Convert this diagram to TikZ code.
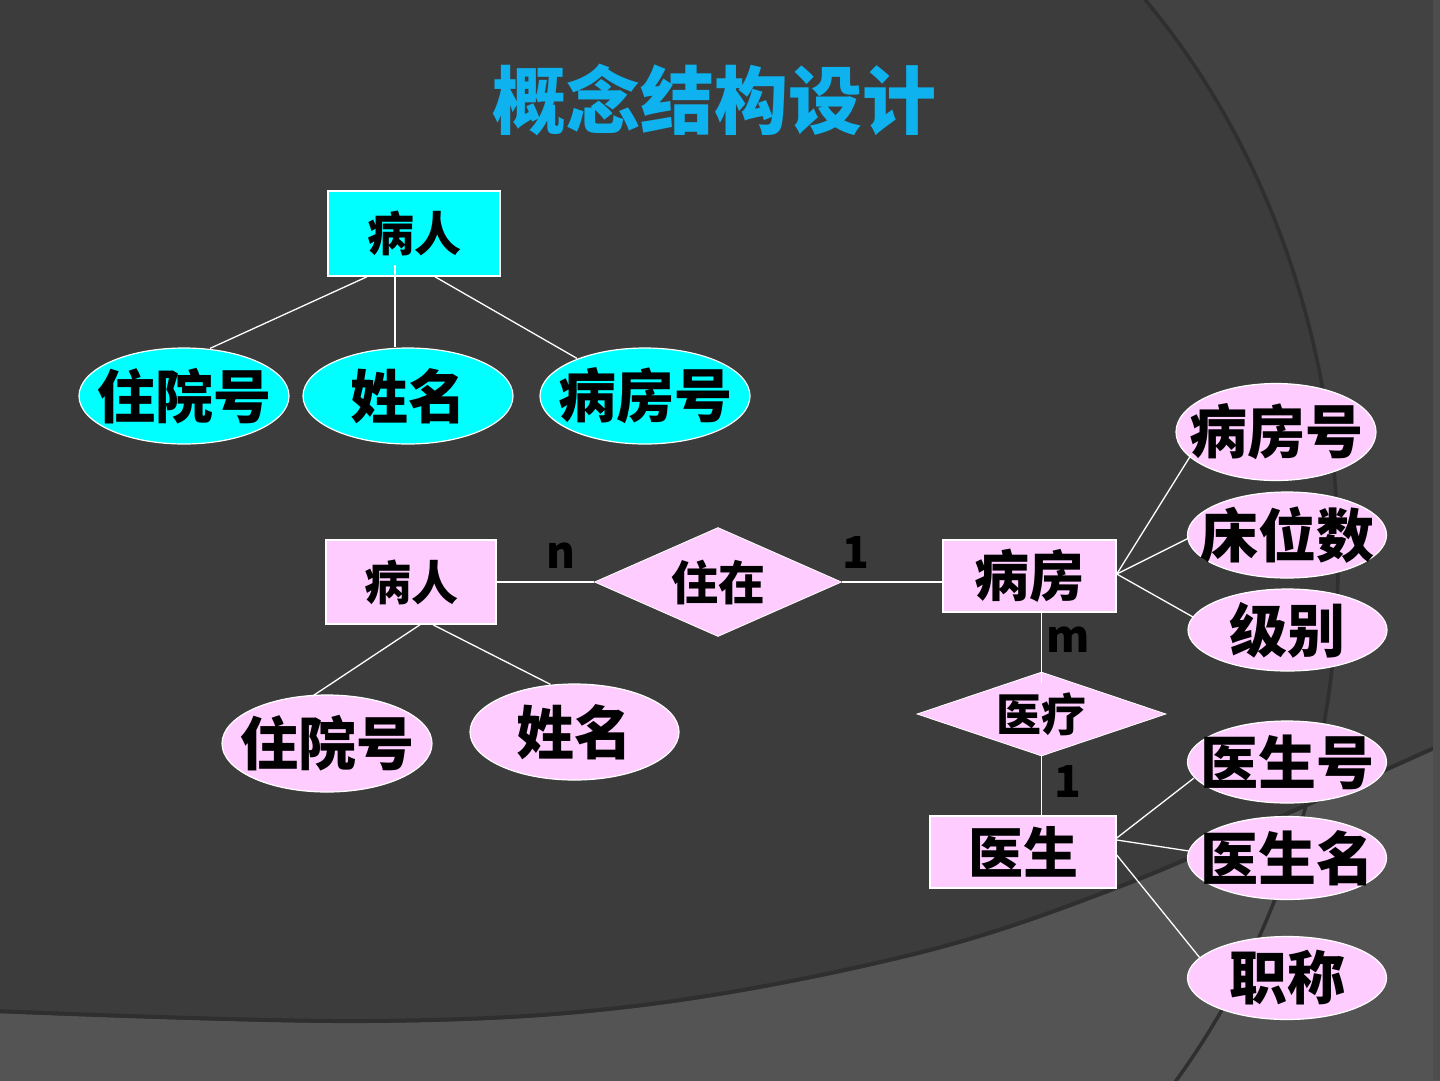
\documentclass[tikz,border=0pt]{standalone}
\usepackage{fontspec}
\newfontfamily\cjk{Noto Sans CJK SC}
\usetikzlibrary{shapes.geometric,calc}
\definecolor{bgbase}{HTML}{3C3C3C}
\definecolor{bgright}{HTML}{424242}
\definecolor{bgbottom}{HTML}{545454}
\definecolor{bgshadow}{HTML}{2F2F2F}
\definecolor{cyanc}{HTML}{00FFFF}
\definecolor{pinkc}{HTML}{FFCCFF}
\definecolor{titlec}{HTML}{0EB2EE}
\newcommand\myfs[1]{\fontsize{#1}{#1}\selectfont}
\begin{document}
\begin{tikzpicture}[x=1pt,y=-1pt,
  ent/.style={draw=white, line width=1.5pt, inner sep=0, fill=#1},
  attr/.style={ellipse, draw=white, line width=1.2pt, inner sep=0, fill=#1},
  rel/.style={diamond, draw=white, line width=0.8pt, inner sep=0, fill=pinkc},
  conn/.style={white, line width=1.3pt},
  txt/.style={font=\cjk\bfseries\myfs{#1}, text=black},
  card/.style={font=\cjk\bfseries\myfs{44}, text=black, inner sep=0}]
% background
\useasboundingbox (0,0) rectangle (1440,1080);
\fill[bgbase] (0,0) rectangle (1440,1080);
\begin{scope}
  \clip (700,0) rectangle (1440,1080);
  \fill[bgright, even odd rule] (700,0) rectangle (1440,1080) (700,560) ellipse [x radius=640, y radius=784];
\end{scope}
\fill[bgbottom] plot[smooth, tension=0.6] coordinates {(-5,1013) (367,1023) (643,1007) (918,955) (1121,888) (1300,810) (1445,745)} -- (1445,1085) -- (-5,1085) -- cycle;
\draw[bgshadow, line width=4pt] plot[smooth, tension=0.6] coordinates {(-5,1011) (367,1021) (643,1005) (918,953) (1121,886) (1300,808) (1445,743)};
\begin{scope}
  \clip (700,0) rectangle (1440,1080);
  \draw[bgshadow, line width=3.5pt] (700,560) ellipse [x radius=638, y radius=782];
\end{scope}
\fill[bgright!94!white] (1433,0) rectangle (1440,1080);

% title
\node[font=\cjk\bfseries\myfs{74}, text=titlec] (title) at (714,100) {概念结构设计};

% top diagram
\node[ent=cyanc, minimum width=172, minimum height=85, txt=47] (p1) at (414,233.5) {病人};
\node[attr=cyanc, minimum width=210, minimum height=96, label={[txt=58]center:住院号}] (a1) at (184,396) {};
\node[attr=cyanc, minimum width=210, minimum height=96, label={[txt=58]center:姓名}] (a2) at (408,396) {};
\node[attr=cyanc, minimum width=210, minimum height=96, label={[txt=58]center:病房号}] (a3) at (645,396) {};
\draw[conn] ($(p1.south)+(-47,0)$) -- ($(a1.north)+(26,1)$);
\draw[conn] ($(p1.south)+(-19,-12)$) -- ($(a2.north)+(-13,0)$);
\draw[conn] ($(p1.south)+(21,0)$) -- ($(a3.north)+(-68,11)$);

% bottom diagram
\node[ent=pinkc, minimum width=170, minimum height=84, txt=47] (p2) at (411,582) {病人};
\node[rel, minimum width=247, minimum height=109, label={[txt=47]center:住在}] (r1) at (718,582) {};
\node[ent=pinkc, minimum width=173, minimum height=72, txt=55] (e1) at (1029.5,576) {病房};
\node[rel, minimum width=249, minimum height=84, label={[txt=45]center:医疗}] (r2) at (1041.5,714) {};
\node[ent=pinkc, minimum width=186, minimum height=72, txt=55] (e2) at (1023,852) {医生};

\node[attr=pinkc, minimum width=210, minimum height=97, label={[txt=58]center:住院号}] (b1) at (327,743.5) {};
\node[attr=pinkc, minimum width=209, minimum height=96, label={[txt=58]center:姓名}] (b2) at (574.5,732) {};

\node[attr=pinkc, minimum width=200, minimum height=97, label={[txt=58]center:病房号}] (c1) at (1276,432) {};
\node[attr=pinkc, minimum width=199, minimum height=86, label={[txt=58]center:床位数}] (c2) at (1287,535) {};
\node[attr=pinkc, minimum width=199, minimum height=82, label={[txt=58]center:级别}] (c3) at (1287.5,630) {};
\node[attr=pinkc, minimum width=199, minimum height=82, label={[txt=58]center:医生号}] (d1) at (1287,762) {};
\node[attr=pinkc, minimum width=199, minimum height=83, label={[txt=58]center:医生名}] (d2) at (1287,858) {};
\node[attr=pinkc, minimum width=199, minimum height=83, label={[txt=58]center:职称}] (d3) at (1287,978) {};

% connectors
\draw[conn] (p2.east) -- (r1.west);
\draw[conn] (r1.east) -- (r1.east -| e1.west);
\draw[conn] ($(p2.south)+(9,0)$) -- ($(b1.north)+(-15,2)$);
\draw[conn] ($(p2.south)+(22,0)$) -- ($(b2.north)+(-24,1)$);
\draw[conn] ($(e1.east)+(0,-2)$) -- ($(c1.center)+(-85,23)$);
\draw[conn] ($(e1.east)+(0,-2)$) -- ($(c2.west)+(2,3)$);
\draw[conn] ($(e1.east)+(0,-2)$) -- ($(c3.center)+(-94.5,-13)$);
\draw[conn] (r2.north |- e1.south) -- ($(r2.north)+(0,11)$);
\draw[conn] (r2.south) -- (r2.south |- e2.north);
\draw[conn] ($(e2.east)+(0,-14)$) -- ($(d1.center)+(-93,16)$);
\draw[conn] ($(e2.east)+(0,-12)$) -- ($(d2.west)+(2,-7)$);
\draw[conn] ($(e2.east)+(0,3)$) -- ($(d3.center)+(-87,-20)$);

% cardinalities
\node[card] (n1) at (561,556) {n};
\node[card] (o1) at (856,553) {1};
\node[card] (m1) at (1068,640) {m};
\node[card] (o2) at (1068,782) {1};
\end{tikzpicture}
\end{document}
